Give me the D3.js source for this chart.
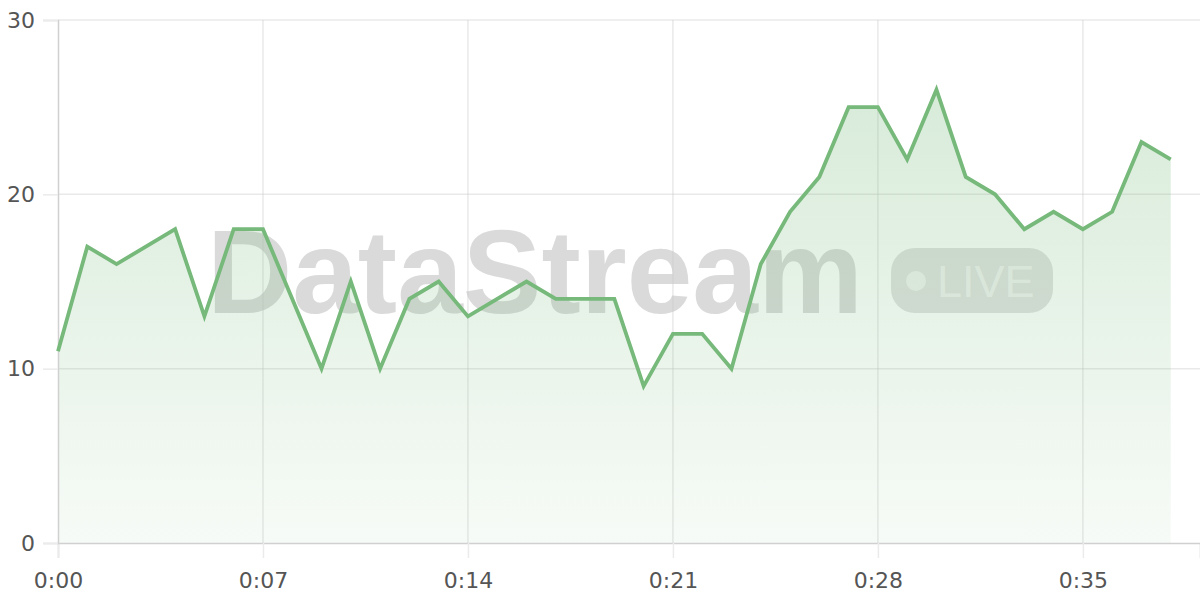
<!DOCTYPE html>
<html>
<head>
<meta charset="utf-8">
<script src="https://cdn.jsdelivr.net/npm/d3@7"></script>
<style>
    html, body { margin: 0; padding: 0; background: #fff; }
    #chart { width: 1200px; height: 600px; }
</style>
</head>
<body>
<div id="chart"></div>
<script>
// minutes since start and the value at each minute
const minutes = [0, 1, 2, 3, 4, 5, 6, 7, 8, 9, 10, 11, 12, 13, 14, 15, 16, 17, 18, 19,
    20, 21, 22, 23, 24, 25, 26, 27, 28, 29, 30, 31, 32, 33, 34, 35, 36, 37, 38];
const values = [11, 17, 16, 17, 18, 13, 18, 18, 14, 10, 15, 10, 14, 15, 13, 14, 15, 14, 14, 14,
    9, 12, 12, 10, 16, 19, 21, 25, 25, 22, 26, 21, 20, 18, 19, 18, 19, 23, 22];

const xTicks = [0, 7, 14, 21, 28, 35];
const xTickLabels = ["0:00", "0:07", "0:14", "0:21", "0:28", "0:35"];
const yTicks = [0, 10, 20, 30];

const data = minutes.map((m, i) => ({key: m, value: values[i]}));

let margin = {top: 20, right: 0, bottom: 57, left: 58};
let width = 1200 - margin.left - margin.right;
let height = 600 - margin.top - margin.bottom;

let svg = d3.select("#chart").append("svg")
    .attr("width", 1200)
    .attr("height", 600)
    .append("g")
    .attr("transform", `translate(${margin.left}, ${margin.top})`);

let x = d3.scaleLinear().domain([0, 39]).range([0, width]);
let y = d3.scaleLinear().domain([0, 30]).range([height, 0]);

// gradient for the area
let defs = svg.append("defs");
let grad = defs.append("linearGradient")
    .attr("id", "areaGrad")
    .attr("gradientUnits", "userSpaceOnUse")
    .attr("x1", 0).attr("x2", 0)
    .attr("y1", y(30)).attr("y2", y(0));
grad.append("stop").attr("offset", "0%").attr("stop-color", "#76b97a").attr("stop-opacity", 0.32);
grad.append("stop").attr("offset", "100%").attr("stop-color", "#76b97a").attr("stop-opacity", 0.06);

// watermark sits behind everything
let wm = svg.append("g").attr("class", "watermark");
wm.append("text")
    .attr("x", 207 - margin.left)
    .attr("y", 313 - margin.top)
    .attr("font-family", "'Liberation Sans', Arial, sans-serif")
    .attr("font-weight", "bold")
    .attr("font-size", "118px")
    .attr("fill", "rgba(120,120,120,0.27)")
    .text("DataStream");
wm.append("rect")
    .attr("x", 891 - margin.left)
    .attr("y", 248 - margin.top)
    .attr("width", 162)
    .attr("height", 65)
    .attr("rx", 24)
    .attr("fill", "rgba(120,120,120,0.22)");
wm.append("circle")
    .attr("cx", 916 - margin.left)
    .attr("cy", 281 - margin.top)
    .attr("r", 10)
    .attr("fill", "rgba(255,255,255,0.55)");
wm.append("text")
    .attr("x", 937 - margin.left)
    .attr("y", 297 - margin.top)
    .attr("font-family", "'Liberation Sans', Arial, sans-serif")
    .attr("font-size", "45px")
    .attr("fill", "rgba(255,255,255,0.55)")
    .text("LIVE");

// grid lines
svg.append("g")
    .selectAll("line")
    .data(yTicks.filter(d => d > 0))
    .join("line")
    .attr("x1", 0).attr("x2", width)
    .attr("y1", d => y(d)).attr("y2", d => y(d))
    .attr("stroke", "rgba(200,200,200,0.4)")
    .attr("stroke-width", 1.5);

svg.append("g")
    .selectAll("line")
    .data(xTicks.filter(d => d > 0))
    .join("line")
    .attr("x1", d => x(d)).attr("x2", d => x(d))
    .attr("y1", 0).attr("y2", height)
    .attr("stroke", "rgba(200,200,200,0.4)")
    .attr("stroke-width", 1.5);

// area
let area = d3.area()
    .x(d => x(d.key))
    .y0(y(0))
    .y1(d => y(d.value));

svg.append("path")
    .datum(data)
    .attr("d", area)
    .attr("fill", "url(#areaGrad)");

// x axis
let xAxis = d3.axisBottom(x)
    .tickValues(xTicks)
    .tickFormat((d, i) => xTickLabels[i])
    .tickSize(15)
    .tickPadding(14);

let gx = svg.append("g")
    .attr("class", "x-axis")
    .attr("transform", `translate(0, ${height})`)
    .call(xAxis);
gx.select(".domain").attr("stroke", "#d0d0d0").attr("stroke-width", 1.5);
gx.selectAll(".tick line").attr("stroke", "#ebebeb").attr("stroke-width", 1.5);
gx.selectAll(".tick text")
    .attr("fill", "#555")
    .attr("font-family", "'DejaVu Sans', sans-serif")
    .attr("font-size", "22px");

// y axis
let yAxis = d3.axisLeft(y)
    .tickValues(yTicks)
    .tickSize(15)
    .tickPadding(8);

let gy = svg.append("g")
    .attr("class", "y-axis")
    .call(yAxis);
gy.select(".domain").attr("stroke", "#d0d0d0").attr("stroke-width", 1.5);
gy.selectAll(".tick line").attr("stroke", "#ebebeb").attr("stroke-width", 1.5);
gy.selectAll(".tick text")
    .attr("fill", "#555")
    .attr("font-family", "'DejaVu Sans', sans-serif")
    .attr("font-size", "22px");

// line
let line = d3.line()
    .x(d => x(d.key))
    .y(d => y(d.value));

svg.append("path")
    .datum(data)
    .attr("d", line)
    .attr("fill", "none")
    .attr("stroke", "#76b97a")
    .attr("stroke-width", 3.8)
    .attr("stroke-linejoin", "miter");
</script>
</body>
</html>
